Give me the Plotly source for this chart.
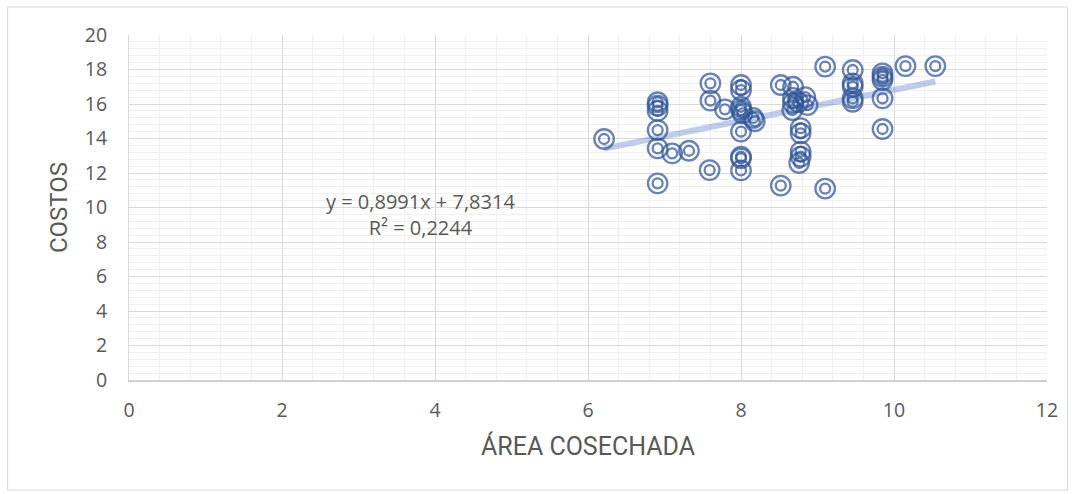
import plotly.graph_objects as go

# Harvested area vs. costs
area = [6.21, 6.91, 6.91, 6.91, 6.91, 6.91, 6.91, 7.10, 7.32, 7.60, 7.60, 7.59,
        7.79, 8.00, 8.00, 8.00, 8.00, 8.02, 8.00, 8.16, 8.18, 8.00, 8.00, 8.00,
        8.52, 8.52, 8.68, 8.68, 8.68, 8.75, 8.84, 8.87, 8.67, 8.78, 8.78, 8.78,
        8.78, 8.76, 9.10, 9.10, 9.46, 9.46, 9.46, 9.46, 9.46, 9.85, 9.85, 9.85,
        9.85, 9.85, 10.15, 10.54]
costos = [13.97, 16.10, 15.90, 15.60, 14.49, 13.43, 11.40, 13.14, 13.29, 17.20, 16.20, 12.17,
          15.69, 17.10, 16.80, 15.84, 15.65, 15.46, 14.40, 15.19, 15.00, 12.95, 12.85, 12.15,
          17.10, 11.27, 17.00, 16.35, 16.06, 16.10, 16.40, 15.94, 15.65, 14.60, 14.30, 13.24,
          12.95, 12.58, 18.17, 11.10, 17.97, 17.20, 17.00, 16.33, 16.13, 17.78, 17.58, 17.39,
          16.33, 14.55, 18.20, 18.20]

# Linear trendline coefficients and fit quality
slope = 0.8991
intercept = 7.8314
r2 = 0.2244

x_ticks = [0, 2, 4, 6, 8, 10, 12]
y_ticks = [0, 2, 4, 6, 8, 10, 12, 14, 16, 18, 20]

W, H = 1075, 494
ML, MR, MT, MB = 128.5, 27.5, 35, 114

FONT = "Open Sans, Liberation Sans, sans-serif"
TITLE_FONT = "Roboto, Open Sans, sans-serif"
MARK = "rgba(47,85,151,0.72)"
GREY = "#595959"

fig = go.Figure()

# Trendline over the data range
x_lo, x_hi = min(area), max(area)
fig.add_trace(go.Scatter(
    x=[x_lo, x_hi], y=[slope * x_lo + intercept, slope * x_hi + intercept],
    mode="lines", line=dict(color="rgba(68,114,196,0.35)", width=6),
    hoverinfo="skip", showlegend=False))

# Double-ring markers: outer and inner open circles
fig.add_trace(go.Scatter(
    x=area, y=costos, mode="markers", showlegend=False,
    marker=dict(symbol="circle-open", size=19.5, color=MARK,
                line=dict(color=MARK, width=2.3))))
fig.add_trace(go.Scatter(
    x=area, y=costos, mode="markers", showlegend=False, hoverinfo="skip",
    marker=dict(symbol="circle-open", size=10, color=MARK,
                line=dict(color=MARK, width=2.3))))

def fmt(v):
    return f"{v:.4f}".replace(".", ",")

fig.add_annotation(
    x=3.81, y=9.62, xref="x", yref="y", showarrow=False, align="center",
    text=f"y = {fmt(slope)}x + {fmt(intercept)}<br>R² = {fmt(r2)}",
    font=dict(family=FONT, size=20, color=GREY))

# Outer chart frame
pw, ph = W - ML - MR, H - MT - MB
fig.add_shape(type="rect", xref="paper", yref="paper",
              x0=(7 - ML) / pw, x1=(1068 - ML) / pw,
              y0=((H - MB) - 490) / ph, y1=((H - MB) - 7) / ph,
              line=dict(color="#d9d9d9", width=1), fillcolor="rgba(0,0,0,0)",
              layer="below")

fig.update_layout(
    width=W, height=H, margin=dict(l=ML, r=MR, t=MT, b=MB),
    paper_bgcolor="white", plot_bgcolor="white",
    font=dict(family=FONT, color=GREY),
)
fig.update_xaxes(
    range=[0, 12], tickvals=x_ticks, ticktext=[str(v) for v in x_ticks],
    showgrid=True, gridcolor="#d9d9d9", gridwidth=1.3,
    minor=dict(dtick=0.4, showgrid=True, gridcolor="#f0f0f0", gridwidth=1),
    zeroline=False, showline=True, linecolor="#d0d0d0", linewidth=1.5,
    ticks="", tickfont=dict(size=19.5, color=GREY), ticklabelstandoff=12,
    title=dict(text="ÁREA COSECHADA",
               font=dict(family=TITLE_FONT, size=25, color=GREY), standoff=15),
)
fig.update_yaxes(
    range=[0, 20], tickvals=y_ticks, ticktext=[str(v) for v in y_ticks],
    showgrid=True, gridcolor="#d9d9d9", gridwidth=1.3,
    minor=dict(dtick=0.4, showgrid=True, gridcolor="#f0f0f0", gridwidth=1),
    zeroline=False, showline=True, linecolor="#d9d9d9", linewidth=1,
    ticks="", tickfont=dict(size=19.5, color=GREY), ticklabelstandoff=17,
    title=dict(text="COSTOS",
               font=dict(family=TITLE_FONT, size=24, color=GREY), standoff=10),
)

fig.write_html("out.html")
